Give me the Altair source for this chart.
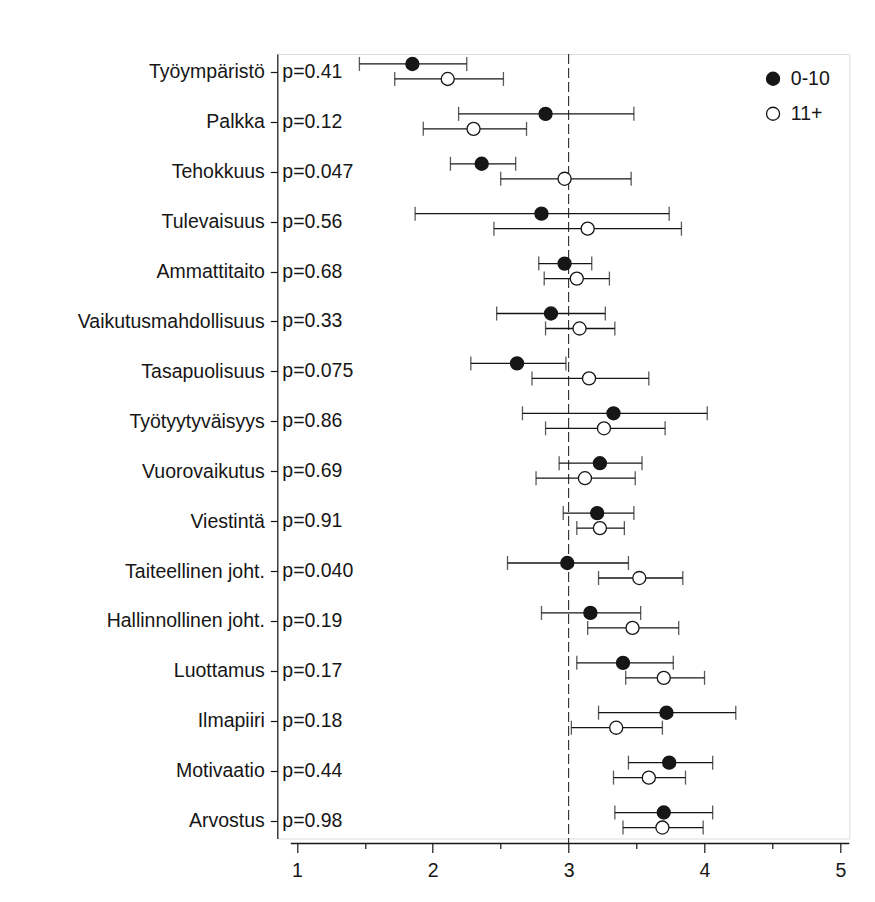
import altair as alt
import pandas as pd

categories = ["Työympäristö", "Palkka", "Tehokkuus", "Tulevaisuus", "Ammattitaito",
              "Vaikutusmahdollisuus", "Tasapuolisuus", "Työtyytyväisyys", "Vuorovaikutus",
              "Viestintä", "Taiteellinen joht.", "Hallinnollinen joht.", "Luottamus",
              "Ilmapiiri", "Motivaatio", "Arvostus"]
p_values = ["p=0.41", "p=0.12", "p=0.047", "p=0.56", "p=0.68", "p=0.33", "p=0.075", "p=0.86",
            "p=0.69", "p=0.91", "p=0.040", "p=0.19", "p=0.17", "p=0.18", "p=0.44", "p=0.98"]
groups = ["0-10", "11+"]

mean_0_10 = [1.85, 2.83, 2.36, 2.80, 2.97, 2.87, 2.62, 3.33, 3.23, 3.21, 2.99, 3.16, 3.40, 3.72, 3.74, 3.70]
lo_0_10 = [1.46, 2.19, 2.13, 1.87, 2.78, 2.47, 2.28, 2.66, 2.93, 2.96, 2.55, 2.80, 3.06, 3.22, 3.44, 3.34]
hi_0_10 = [2.25, 3.48, 2.61, 3.74, 3.17, 3.27, 2.98, 4.02, 3.54, 3.48, 3.44, 3.53, 3.77, 4.23, 4.06, 4.06]

mean_11 = [2.11, 2.30, 2.97, 3.14, 3.06, 3.08, 3.15, 3.26, 3.12, 3.23, 3.52, 3.47, 3.70, 3.35, 3.59, 3.69]
lo_11 = [1.72, 1.93, 2.50, 2.45, 2.82, 2.83, 2.73, 2.83, 2.76, 3.06, 3.22, 3.14, 3.42, 3.02, 3.33, 3.40]
hi_11 = [2.52, 2.69, 3.46, 3.83, 3.30, 3.34, 3.59, 3.71, 3.49, 3.41, 3.84, 3.81, 4.00, 3.69, 3.86, 3.99]

x_ticks = [1, 1.5, 2, 2.5, 3, 3.5, 4, 4.5, 5]
ref_value = 3

W = 572
H = 784.5
PAD_L = 269.3
PAD_T = 46
PAD_R = 16
PAD_B = 50
FONT = "Liberation Sans"
INK = "#161616"

df = pd.concat([
    pd.DataFrame({"cat": categories, "group": groups[0], "mean": mean_0_10, "lo": lo_0_10, "hi": hi_0_10}),
    pd.DataFrame({"cat": categories, "group": groups[1], "mean": mean_11, "lo": lo_11, "hi": hi_11}),
], ignore_index=True)
pdf = pd.DataFrame({"cat": categories, "p": p_values})
one = pd.DataFrame({"a": [0]})

xscale = alt.Scale(domain=[0.8557, 5.0655], nice=False, zero=False)
x_axis = alt.Axis(
    values=x_ticks, title=None, grid=False, domain=False, offset=5,
    labelExpr="datum.value % 1 === 0 ? format(datum.value, 'd') : ''",
    tickSize={"condition": {"test": "datum.value % 1 !== 0", "value": 5}, "value": 9},
    tickColor=INK, tickWidth=1.2, labelFontSize=19.5, labelFont=FONT, labelColor=INK,
    labelPadding=9,
)
yenc = alt.Y("cat:N", sort=categories,
             scale=alt.Scale(type="point", domain=categories, padding=0.36),
             axis=alt.Axis(title=None, grid=False, domainColor=INK, domainWidth=1.2,
                           tickColor=INK, tickWidth=1.2, tickSize=7, labelPadding=6,
                           labelFontSize=19.5, labelFont=FONT, labelColor=INK, labelLimit=400))
fill = alt.Fill("group:N", scale=alt.Scale(domain=groups, range=[INK, "white"]),
                legend=alt.Legend(title=None, orient="none", legendX=486, legendY=15,
                                  symbolType="circle", symbolSize=170,
                                  symbolStrokeColor=INK, symbolStrokeWidth=1.3,
                                  labelFontSize=19.5, labelFont=FONT, labelColor=INK,
                                  labelOffset=8, rowPadding=14, padding=0))

ref_line = alt.Chart(one).mark_rule(color=INK, strokeWidth=1, strokeDash=[10, 4]).encode(
    x=alt.datum(ref_value, scale=xscale, axis=x_axis), y=alt.value(0), y2=alt.value(H + 5))
x_domain = alt.Chart(one).mark_rule(color=INK, strokeWidth=1.3).encode(
    x=alt.datum(0.955), x2=alt.datum(5.0655), y=alt.value(H + 5))

layers = [ref_line, x_domain]
offsets = {groups[0]: -8, groups[1]: 7}
for g in groups:
    base = alt.Chart(df).transform_filter(alt.datum.group == g)
    off = alt.value(offsets[g])
    bar = base.mark_rule(color=INK, strokeWidth=1.3).encode(
        x=alt.X("lo:Q", scale=xscale, axis=x_axis), x2="hi:Q", y=yenc, yOffset=off)
    cap_lo = base.mark_tick(color=INK, thickness=1.3, size=14, orient="vertical").encode(
        x=alt.X("lo:Q", scale=xscale, axis=x_axis), y=yenc, yOffset=off)
    cap_hi = base.mark_tick(color=INK, thickness=1.3, size=14, orient="vertical").encode(
        x=alt.X("hi:Q", scale=xscale, axis=x_axis), y=yenc, yOffset=off)
    pts = base.mark_point(shape="circle", filled=True, stroke=INK, strokeWidth=1.3,
                          size=170, opacity=1).encode(
        x=alt.X("mean:Q", scale=xscale, axis=x_axis), y=yenc, yOffset=off, fill=fill)
    layers += [bar, cap_lo, cap_hi, pts]

ptext = alt.Chart(pdf).mark_text(align="left", baseline="middle", fontSize=19.5,
                                 font=FONT, color=INK).encode(
    y=yenc, x=alt.value(5), text="p:N")
layers.append(ptext)

chart = alt.layer(*layers).properties(
    width=W, height=H,
    padding={"left": PAD_L, "top": PAD_T, "right": PAD_R, "bottom": PAD_B},
    autosize=alt.AutoSizeParams(type="none"),
).configure_view(stroke=None).configure(background="white")

chart.save("out.html", embed_options={"renderer": "svg", "actions": False})
